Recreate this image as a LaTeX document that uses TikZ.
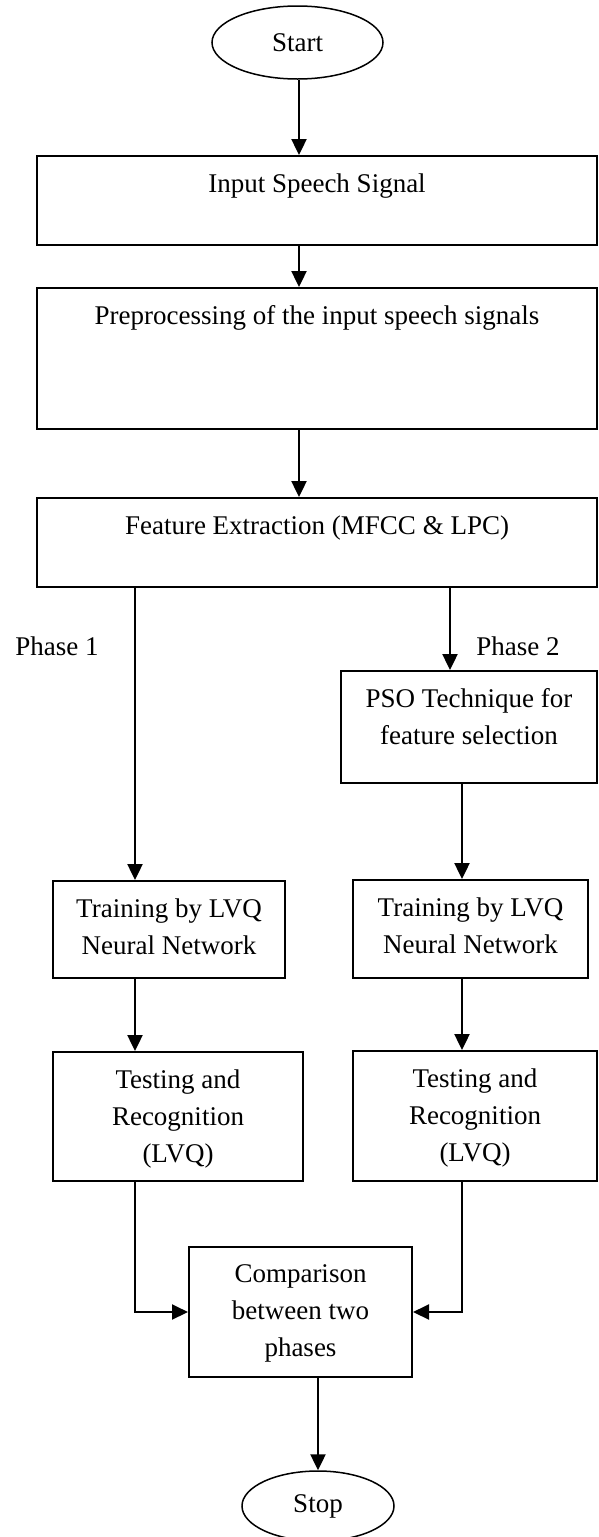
\documentclass[tikz,border=0pt]{standalone}
\usepackage{fontspec}
\setmainfont{Liberation Serif}
\usetikzlibrary{arrows.meta,shapes.geometric,positioning,calc}

\tikzset{
  box/.style={draw, line width=2pt, inner sep=0pt},
  boxtext/.style={anchor=north, align=center, inner sep=0pt, yshift=-18.6pt},
  term/.style={draw, ellipse, line width=1.5pt, inner sep=0pt},
  arr/.style={line width=2.4pt, -{Triangle[width=15pt,length=16pt]}},
}

\begin{document}
\begin{tikzpicture}[x=1pt,y=-1pt,font=\fontsize{27}{37}\selectfont]
  \useasboundingbox (0,0) rectangle (598,1537);
  % columns the connectors run along
  \coordinate (mid) at (299,0);
  \coordinate (p1) at (135,0);
  \coordinate (p2) at (450,0);
  \coordinate (p3) at (462,0);

  \node[term, minimum width=171pt, minimum height=73pt] (start) at (297.5,42.5) {Start};
  \node[box, minimum width=560pt, minimum height=89pt,
        label={[boxtext]north:Input Speech Signal}] (input) at (317,200.5) {};
  \node[box, minimum width=560pt, minimum height=141pt,
        label={[boxtext]north:Preprocessing of the input speech signals}] (prep) at (317,358.5) {};
  \node[box, minimum width=560pt, minimum height=89pt,
        label={[boxtext]north:Feature Extraction (MFCC \& LPC)}] (feat) at (317,542.5) {};

  \node[anchor=base] (ph1) at (57,655) {Phase 1};
  \node[anchor=base] (ph2) at (518,655) {Phase 2};

  % phase 2 only
  \node[box, minimum width=256pt, minimum height=112pt,
        label={[boxtext]north:PSO Technique for\\feature selection}] (pso) at (469,727) {};

  % both phases
  \node[box, minimum width=232pt, minimum height=97pt,
        label={[boxtext]north:Training by LVQ\\Neural Network}] (trainl) at (169,929.5) {};
  \node[box, minimum width=235pt, minimum height=98pt,
        label={[boxtext]north:Training by LVQ\\Neural Network}] (trainr) at (470.5,929) {};
  \node[box, minimum width=250pt, minimum height=129pt,
        label={[boxtext]north:Testing and\\Recognition\\(LVQ)}] (testl) at (178,1116.5) {};
  \node[box, minimum width=244pt, minimum height=130pt,
        label={[boxtext]north:Testing and\\Recognition\\(LVQ)}] (testr) at (475,1116) {};

  \node[box, minimum width=223pt, minimum height=130pt,
        label={[boxtext]north:Comparison\\between two\\phases}] (comp) at (300.5,1312) {};
  \node[term, minimum width=152pt, minimum height=70pt] (stop) at (318,1506) {Stop};

  \draw[arr] (start.south -| mid) -- (input.north -| mid);
  \draw[arr] (input.south -| mid) -- (prep.north -| mid);
  \draw[arr] (prep.south -| mid) -- (feat.north -| mid);
  \draw[arr] (feat.south -| p1) -- (trainl.north -| p1);
  \draw[arr] (feat.south -| p2) -- (pso.north -| p2);
  \draw[arr] (pso.south -| p3) -- (trainr.north -| p3);
  \draw[arr] (trainl.south -| p1) -- (testl.north -| p1);
  \draw[arr] (trainr.south -| p3) -- (testr.north -| p3);
  \draw[arr, line width=2pt] (testl.south -| p1) |- (comp.west);
  \draw[arr, line width=2pt] (testr.south -| p3) |- (comp.east);
  \draw[arr] (comp.south -| stop) -- (stop);
\end{tikzpicture}
\end{document}
